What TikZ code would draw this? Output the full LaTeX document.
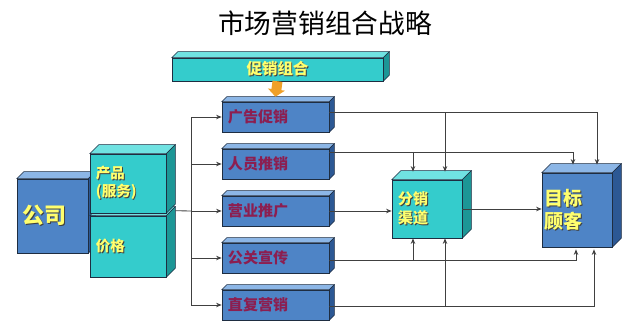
\documentclass[tikz,border=0pt]{standalone}
\usepackage{fontspec}
\usepackage{tikz}
\usetikzlibrary{arrows.meta,positioning,calc,backgrounds}
\newfontfamily\cjk{Noto Sans CJK SC}
\definecolor{blufront}{RGB}{78,132,198}
\definecolor{blutop}{RGB}{140,182,230}
\definecolor{bluside}{RGB}{44,88,148}
\definecolor{teafront}{RGB}{52,204,204}
\definecolor{teatop}{RGB}{112,226,226}
\definecolor{teaside}{RGB}{28,150,150}
\definecolor{edgec}{RGB}{30,45,65}
\definecolor{maroon}{RGB}{140,30,80}
\definecolor{yel}{RGB}{255,255,110}
\newcommand\shd[1]{\makebox[0pt][l]{\kern.7pt\raisebox{-.7pt}{\color{black!75}#1}}#1}
\newcommand\fs[2]{\fontsize{#1}{#2}\selectfont}

\begin{document}
\begin{tikzpicture}[x=0.025cm, y=-0.025cm,
    bluebox/.style={draw=edgec, fill=blufront, text=maroon, font=\cjk\bfseries\fs{10.7}{13},
        minimum width=2.675cm, minimum height=0.75cm, text width=2.375cm, inner xsep=0.15cm,
        inner ysep=0pt, align=left},
    teabox/.style={draw=edgec, fill=teafront, text=yel, font=\cjk\bfseries, inner ysep=0pt, align=left},
    conn/.style={draw=black!75, line width=0.6pt},
    arr/.style={conn, -{Stealth[length=4pt,width=3.2pt]}},
    promoarr/.style={draw={rgb,255:red,240;green,160;blue,40}, line width=0.25cm,
        -{Triangle[width=0.42cm,length=0.18cm]}}
]
\useasboundingbox (0,0) rectangle (640,336);

\node[font=\cjk\fs{19}{22}] (title) at (325,23) {市场营销组合战略};

\node[teabox, font=\cjk\bfseries\fs{11}{13}, minimum width=5.275cm, minimum height=0.575cm, align=center] (promo) at (277.5,69.5) {\shd{促销组合}};

\node[bluebox] (ad) at (275.5,117) {广告促销};
\node[bluebox] (pers) at (275.5,164) {人员推销};
\node[bluebox] (sales) at (275.5,211) {营业推广};
\node[bluebox] (pr) at (275.5,258) {公关宣传};
\node[bluebox] (dm) at (275.5,305) {直复营销};

\node[bluebox, text=yel, font=\cjk\bfseries\fs{15.6}{18}, minimum width=1.775cm, minimum height=1.85cm, text width=1.475cm] (comp) at (52.5,216) {\shd{公司}};
\node[teabox, font=\cjk\bfseries\fs{10.3}{12.8}, minimum width=1.9cm, minimum height=1.475cm, text width=1.6cm, inner xsep=0.15cm] (prod) at (128,183.5) {\shd{产品}\\\shd{(服务)}};
\node[teabox, font=\cjk\bfseries\fs{10.3}{12.8}, minimum width=1.9cm, minimum height=1.525cm, text width=1.6cm, inner xsep=0.15cm] (price) at (128,246.5) {\shd{价格}};

\node[teabox, font=\cjk\bfseries\fs{10.7}{14}, minimum width=1.75cm, minimum height=1.45cm, text width=1.45cm, inner xsep=0.15cm] (dist) at (427,209) {\shd{分销}\\\shd{渠道}};
\node[bluebox, text=yel, font=\cjk\bfseries\fs{13.5}{16.5}, minimum width=1.75cm, minimum height=1.85cm, text width=1.6cm, inner xsep=0.075cm] (tgt) at (577,210) {\shd{目标}\\\shd{顾客}};

% top and side faces
\begin{scope}[on background layer]
\foreach \n/\d/\ct/\cs in {ad/5/blutop/bluside, pers/5/blutop/bluside, sales/5/blutop/bluside,
    pr/5/blutop/bluside, dm/5/blutop/bluside, comp/7/blutop/bluside, tgt/9/blutop/bluside,
    promo/6/teatop/teaside, price/9/teatop/teaside, prod/9/teatop/teaside, dist/9/teatop/teaside}{
  \filldraw[fill=\ct, draw=edgec, line width=0.4pt] (\n.north west) -- ++(\d,-\d)
      -- ([shift={(\d,-\d)}]\n.north east) -- (\n.north east) -- cycle;
  \filldraw[fill=\cs, draw=edgec, line width=0.4pt] (\n.north east) -- ++(\d,-\d)
      -- ([shift={(\d,-\d)}]\n.south east) -- (\n.south east) -- cycle;
}
\end{scope}

\draw[promoarr] (promo.south) -- ([yshift=.125cm]ad.north);

% left bus
\coordinate (jn) at (191,211);
\draw[conn] ([xshift=.225cm,yshift=.125cm]price.north east) -- (jn);
\draw[conn] (jn |- ad.west) -- (jn |- dm.west);
\foreach \n in {ad,pers,sales,pr,dm}
  \draw[arr] (jn |- \n.west) -- (\n.west);

% right side
\coordinate (h1) at ([yshift=.125cm]ad.east);
\coordinate (h2) at ([yshift=.3cm]pers.east);
\coordinate (h4) at ([yshift=-.05cm]pr.east);
\coordinate (h5) at ([yshift=-.025cm]dm.east);
\coordinate (d1) at ([xshift=.45cm,yshift=.2cm]dist.north);
\coordinate (d2) at ([xshift=-.35cm,yshift=.2cm]dist.north);
\coordinate (d4) at ([xshift=-.35cm]dist.south);
\coordinate (d5) at ([xshift=.45cm]dist.south);
\coordinate (t1) at ([xshift=.5cm,yshift=.2cm]tgt.north);
\coordinate (t2) at ([xshift=-.1cm,yshift=.2cm]tgt.north);
\coordinate (t4) at ([xshift=-.025cm,yshift=-.05cm]tgt.south);
\coordinate (t5) at ([xshift=.425cm,yshift=-.05cm]tgt.south);

\draw[arr] (h1) -| (t1);
\draw[arr] (h1 -| d1) -- (d1);
\draw[arr] (h2) -| (t2);
\draw[arr] (h2 -| d2) -- (d2);
\draw[arr] (sales.east) -- (sales.east -| dist.west);
\draw[arr] (dist.east) -- (dist.east -| tgt.west);
\draw[arr] (h4) -| (t4);
\draw[arr] (h4 -| d4) -- (d4);
\draw[arr] (h5) -| (t5);
\draw[arr] (h5 -| d5) -- (d5);
\end{tikzpicture}
\end{document}
